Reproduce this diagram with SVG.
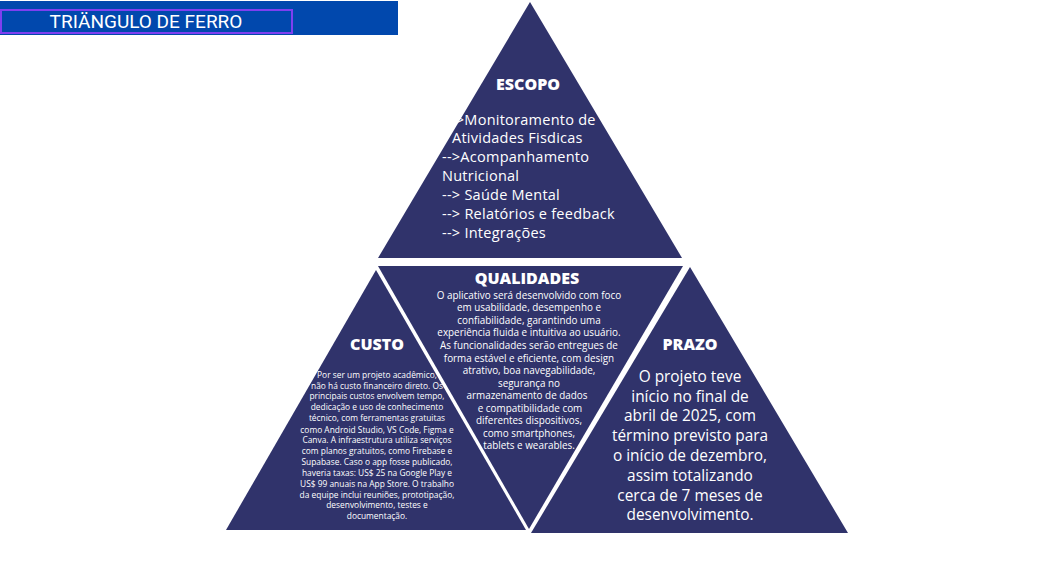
<svg xmlns="http://www.w3.org/2000/svg" width="1058" height="573" viewBox="0 0 1058 573">
  <style>
    .tri { fill: #30336b; }
    .head { font-family: "Open Sans", "Noto Sans", sans-serif; font-weight: 800; font-size: 16px; fill: #ffffff; text-anchor: middle; }
    .body { font-family: "Open Sans", "Noto Sans", sans-serif; fill: #ffffff; }
    .mid { text-anchor: middle; }
  </style>
  <rect width="1058" height="573" fill="#ffffff"/>

  <!-- title bar -->
  <g id="title">
    <rect x="0" y="1" width="398" height="34" fill="#0148ad"/>
    <rect x="1" y="10" width="291" height="23" fill="none" stroke="#7f3ff0" stroke-width="2"/>
    <text x="146" y="27.5" font-family="Roboto, 'Liberation Sans', sans-serif" font-size="19" fill="#ffffff" text-anchor="middle">TRIÄNGULO DE FERRO</text>
  </g>

  <!-- top: scope -->
  <g id="escopo">
    <polygon class="tri" points="530,2 378,258 682,258"/>
    <text class="head" x="528" y="90" font-size="16.5">ESCOPO</text>
    <g class="body" font-size="14.5" letter-spacing="0.25">
      <text x="446" y="125">--&gt;Monitoramento de</text>
      <text x="452" y="143">Atividades Fisdicas</text>
      <text x="442" y="162">--&gt;Acompanhamento</text>
      <text x="442" y="181">Nutricional</text>
      <text x="442" y="200">--&gt; Saúde Mental</text>
      <text x="442" y="219">--&gt; Relatórios e feedback</text>
      <text x="442" y="238">--&gt; Integrações</text>
    </g>
  </g>

  <!-- centre: quality -->
  <g id="qualidades">
    <polygon class="tri" points="378,266 683,266 529,529"/>
    <text class="head" x="527" y="284">QUALIDADES</text>
    <g class="body mid" font-size="9.9">
      <text x="529" y="298.5">O aplicativo será desenvolvido com foco</text>
      <text x="529" y="311">em usabilidade, desempenho e</text>
      <text x="529" y="323.5">confiabilidade, garantindo uma</text>
      <text x="529" y="336">experiência fluida e intuitiva ao usuário.</text>
      <text x="529" y="348.5">As funcionalidades serão entregues de</text>
      <text x="529" y="361.5">forma estável e eficiente, com design</text>
      <text x="529" y="374">atrativo, boa navegabilidade,</text>
      <text x="529" y="386.5">segurança no</text>
      <text x="527" y="399">armazenamento de dados</text>
      <text x="530" y="411.5">e compatibilidade com</text>
      <text x="529" y="424">diferentes dispositivos,</text>
      <text x="529" y="436.5">como smartphones,</text>
      <text x="529" y="449">tablets e wearables.</text>
    </g>
  </g>

  <!-- left: cost -->
  <g id="custo">
    <polygon class="tri" points="376,270 226,530 526,530"/>
    <text class="head" x="377" y="350">CUSTO</text>
    <g class="body mid" font-size="8.4">
      <text x="377" y="378">Por ser um projeto acadêmico,</text>
      <text x="377" y="388.5">não há custo financeiro direto. Os</text>
      <text x="377" y="399">principais custos envolvem tempo,</text>
      <text x="377" y="410">dedicação e uso de conhecimento</text>
      <text x="377" y="421">técnico, com ferramentas gratuitas</text>
      <text x="377" y="432.5">como Android Studio, VS Code, Figma e</text>
      <text x="377" y="443">Canva. A infraestrutura utiliza serviços</text>
      <text x="377" y="454">com planos gratuitos, como Firebase e</text>
      <text x="377" y="465">Supabase. Caso o app fosse publicado,</text>
      <text x="377" y="475.5">haveria taxas: US$ 25 na Google Play e</text>
      <text x="377" y="487">US$ 99 anuais na App Store. O trabalho</text>
      <text x="377" y="497.5">da equipe inclui reuniões, prototipação,</text>
      <text x="377" y="508">desenvolvimento, testes e</text>
      <text x="377" y="519">documentação.</text>
    </g>
  </g>

  <!-- right: schedule -->
  <g id="prazo">
    <polygon class="tri" points="690,267 531,533 848,533"/>
    <text class="head" x="690" y="350">PRAZO</text>
    <g class="body mid" font-size="15.4">
      <text x="690" y="382">O projeto teve</text>
      <text x="690" y="402">início no final de</text>
      <text x="690" y="421">abril de 2025, com</text>
      <text x="690" y="441">término previsto para</text>
      <text x="690" y="461">o início de dezembro,</text>
      <text x="690" y="481">assim totalizando</text>
      <text x="690" y="501">cerca de 7 meses de</text>
      <text x="690" y="520">desenvolvimento.</text>
    </g>
  </g>
</svg>
